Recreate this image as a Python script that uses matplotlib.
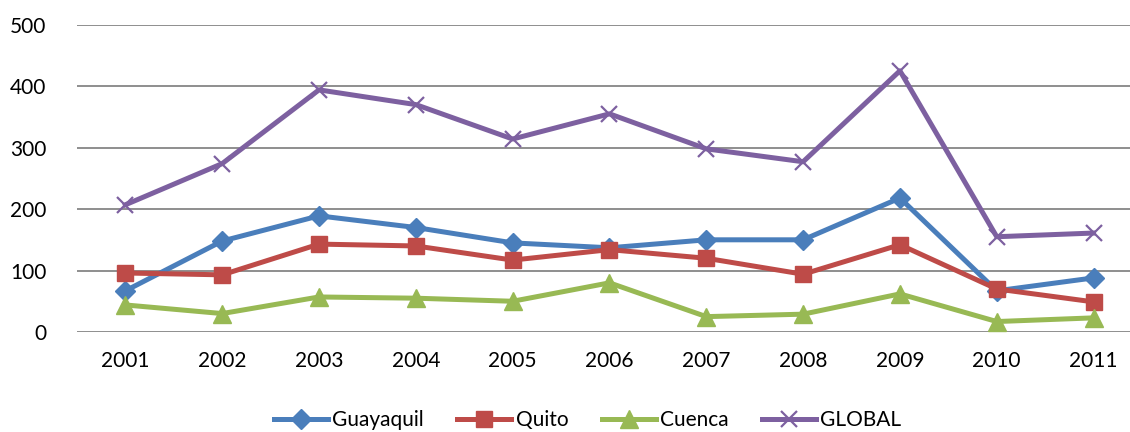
import matplotlib.pyplot as plt

years = ['2001', '2002', '2003', '2004', '2005', '2006', '2007', '2008', '2009', '2010', '2011']
guayaquil = [67, 148, 189, 170, 145, 137, 150, 150, 218, 67, 88]
quito = [96, 93, 143, 140, 117, 134, 120, 94, 142, 70, 49]
cuenca = [44, 30, 57, 55, 50, 80, 25, 29, 62, 17, 23]
global_ = [207, 274, 394, 370, 314, 355, 298, 277, 425, 155, 161]

plt.rcParams['font.family'] = ['Lato', 'DejaVu Sans']

fig = plt.figure(figsize=(11.3, 4.32), dpi=100)
ax = fig.add_axes([0.0681, 0.2315, 0.9425, 0.7113])

x = range(len(years))
ax.plot(x, guayaquil, color='#4A7EBB', lw=3.6, marker='D', ms=10, label='Guayaquil')
ax.plot(x, quito, color='#BE4B48', lw=3.6, marker='s', ms=12, label='Quito')
ax.plot(x, cuenca, color='#98B954', lw=3.6, marker='^', ms=13, label='Cuenca')
ax.plot(x, global_, color='#7D60A0', lw=3.6, marker='x', ms=12, mew=1.6, label='GLOBAL')

ax.set_xlim(-0.5, len(years) - 0.5)
ax.set_ylim(0, 500)
ax.set_yticks(range(0, 501, 100))
ax.set_xticks(list(x))
ax.set_xticklabels(years)
ax.yaxis.grid(True, color='#868686', lw=1.3)
ax.set_axisbelow(True)
for s in ax.spines.values():
    s.set_visible(False)
ax.tick_params(length=0, labelsize=15, colors='black')
ax.tick_params(axis='x', pad=14)
ax.tick_params(axis='y', pad=22)

fig.legend(loc='center', bbox_to_anchor=(0.52, 0.028), ncol=4, frameon=False,
           fontsize=15, handlelength=2.6, columnspacing=1.6, handletextpad=0.2)

plt.savefig('out.png', dpi=100)
